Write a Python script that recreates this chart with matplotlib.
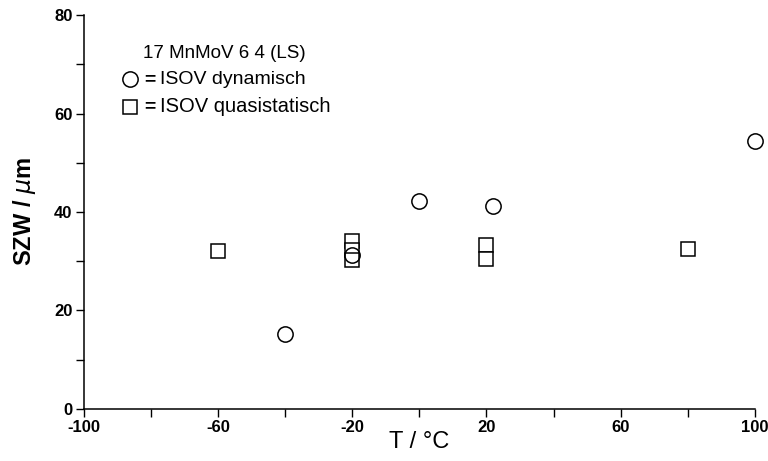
import matplotlib
matplotlib.use("Agg")
import matplotlib.pyplot as plt
from matplotlib.ticker import MultipleLocator

plt.rcParams['font.family'] = ['Liberation Sans', 'DejaVu Sans']
plt.rcParams['axes.unicode_minus'] = False

# ISOV dynamisch
dyn_T = [-40, -20, 0, 22, 100]
dyn_szw = [15.2, 31.3, 42.2, 41.3, 54.5]

# ISOV quasistatisch
qs_T = [-60, -20, -20, -20, 20, 20, 80]
qs_szw = [32.0, 34.2, 32.3, 30.3, 33.3, 30.4, 32.4]

x_ticks = [-100, -60, -20, 20, 60, 100]
y_ticks = [0, 20, 40, 60, 80]

fig = plt.figure(figsize=(7.68, 4.61), dpi=100)
ax = fig.add_axes([0.109, 0.113, 0.874, 0.854])

ax.plot(qs_T, qs_szw, ls='none', marker='s', ms=10, mfc='white', mec='black',
        mew=1.1, zorder=3, clip_on=False)
ax.plot(dyn_T, dyn_szw, ls='none', marker='o', ms=11, mfc='none', mec='black',
        mew=1.1, zorder=4, clip_on=False)

ax.set_xlim(-100, 100)
ax.set_ylim(0, 80)
ax.set_xticks(x_ticks)
ax.set_yticks(y_ticks)
ax.xaxis.set_minor_locator(MultipleLocator(20))
ax.yaxis.set_minor_locator(MultipleLocator(10))
ax.tick_params(which='both', direction='out', width=1, color='black', length=5.5, pad=2.5)
for lab in ax.get_xticklabels() + ax.get_yticklabels():
    lab.set_fontsize(12)
    lab.set_fontweight('bold')

for side in ('top', 'right'):
    ax.spines[side].set_visible(False)
for side in ('left', 'bottom'):
    ax.spines[side].set_linewidth(1.1)

ax.set_xlabel('T / °C', fontsize=17, labelpad=-3)
ax.set_ylabel('SZW / $\\mu$m', fontsize=17, fontweight='bold', labelpad=12)

# Legend block
fs = 14
ax.text(0.088, 0.903, '17 MnMoV 6 4 (LS)', transform=ax.transAxes, fontsize=13.5, va='center')
ax.plot([0.069], [0.837], transform=ax.transAxes, marker='o', ms=11, mfc='none',
        mec='black', mew=1.1, clip_on=False)
ax.text(0.090, 0.837, '=', transform=ax.transAxes, fontsize=fs, va='center', fontweight='bold')
ax.text(0.114, 0.837, 'ISOV dynamisch', transform=ax.transAxes, fontsize=fs, va='center')
ax.plot([0.069], [0.768], transform=ax.transAxes, marker='s', ms=10, mfc='none',
        mec='black', mew=1.1, clip_on=False)
ax.text(0.090, 0.768, '=', transform=ax.transAxes, fontsize=fs, va='center', fontweight='bold')
ax.text(0.114, 0.768, 'ISOV quasistatisch', transform=ax.transAxes, fontsize=14.5, va='center')

fig.savefig('out.png', dpi=100)
